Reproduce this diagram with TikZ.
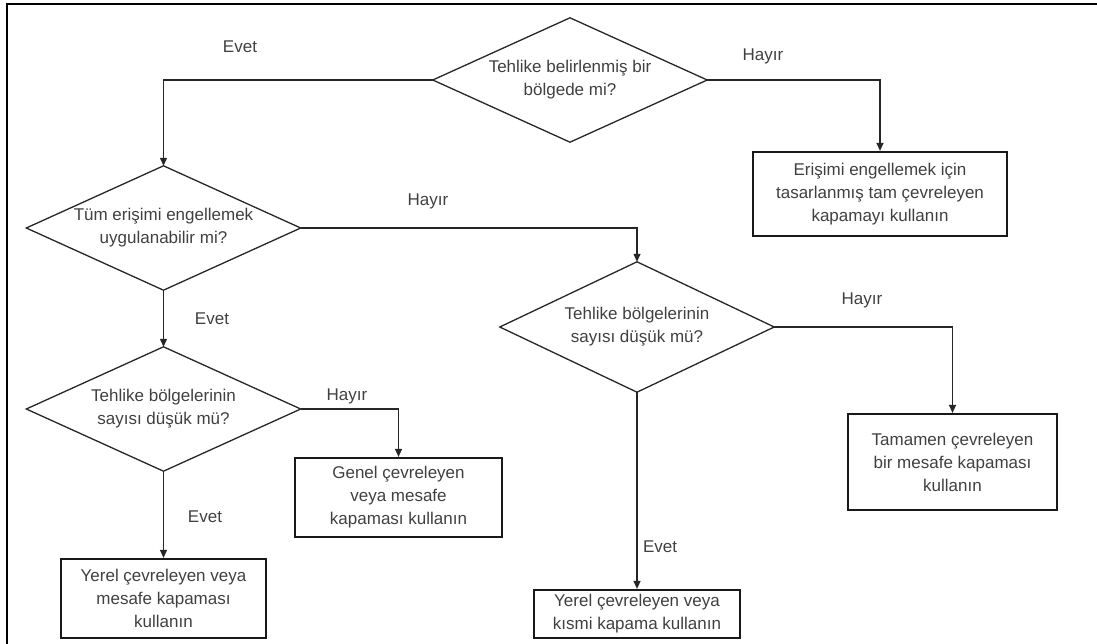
\documentclass[tikz,border=0pt]{standalone}
\usepackage{fontspec}
\setmainfont{Liberation Sans}
\usetikzlibrary{arrows.meta}
\begin{document}
\begin{tikzpicture}[x=1pt,y=-1pt,
  every node/.style={font=\fontsize{17}{23}\selectfont, text=black!75},
  decision/.style={align=center, inner sep=0pt, minimum width=274pt, minimum height=124pt},
  action/.style={draw=black!90, line width=2.2pt, align=center, inner sep=0pt},
  outline/.style={draw=black!85, line width=1.3pt, line join=miter},
  flow/.style={draw=black!85, line width=1.3pt, -{Triangle[length=8pt,width=7pt]}},
  answer/.style={inner sep=0pt}]
  \useasboundingbox (0,0) rectangle (1097,644);
  % page frame
  \draw[black, line width=2pt] (7,644) -- (7,4) -- (1097,4);

  % decisions
  \node[decision] (d1) at (570,80) {Tehlike belirlenmiş bir\\bölgede mi?};
  \node[decision] (d2) at (163.5,228) {Tüm erişimi engellemek\\uygulanabilir mi?};
  \node[decision, minimum height=130pt] (d3) at (637,327) {Tehlike bölgelerinin\\sayısı düşük mü?};
  \node[decision] (d4) at (163.5,409) {Tehlike bölgelerinin\\sayısı düşük mü?};
  \foreach \n in {d1,d2,d3,d4}
    \draw[outline] (\n.north) -- (\n.east) -- (\n.south) -- (\n.west) -- cycle;

  % actions
  \node[action, minimum width=254pt, minimum height=84pt] (b1) at (880,194)
    {Erişimi engellemek için\\tasarlanmış tam çevreleyen\\kapamayı kullanın};
  \node[action, minimum width=207pt, minimum height=79pt] (b2) at (398.5,497.5)
    {Genel çevreleyen\\veya mesafe\\kapaması kullanın};
  \node[action, minimum width=205pt, minimum height=79pt] (b3) at (163.5,598.5)
    {Yerel çevreleyen veya\\mesafe kapaması\\kullanın};
  \node[action, minimum width=209pt, minimum height=96pt] (b4) at (952.5,462)
    {Tamamen çevreleyen\\bir mesafe kapaması\\kullanın};
  \node[action, minimum width=206pt, minimum height=48pt] (b5) at (637,614)
    {Yerel çevreleyen veya\\kısmi kapama kullanın};

  % connectors
  \draw[flow] (d1.west) -| (d2.north);
  \draw[flow] (d1.east) -| (b1.north);
  \draw[flow] (d2.east) -| (d3.north);
  \draw[flow] (d2.south) -- (d4.north);
  \draw[flow] (d3.east) -| (b4.north);
  \draw[flow] (d3.south) -- (b5.north);
  \draw[flow] (d4.east) -| (b2.north);
  \draw[flow] (d4.south) -- (b3.north);

  % branch labels
  \node[answer] (l1) at (240,47) {Evet};
  \node[answer] (l2) at (763,56) {Hayır};
  \node[answer] (l3) at (428,201) {Hayır};
  \node[answer] (l4) at (212,319) {Evet};
  \node[answer] (l5) at (862,300) {Hayır};
  \node[answer] (l6) at (347,396) {Hayır};
  \node[answer] (l7) at (205,517) {Evet};
  \node[answer] (l8) at (660,547) {Evet};
\end{tikzpicture}
\end{document}
